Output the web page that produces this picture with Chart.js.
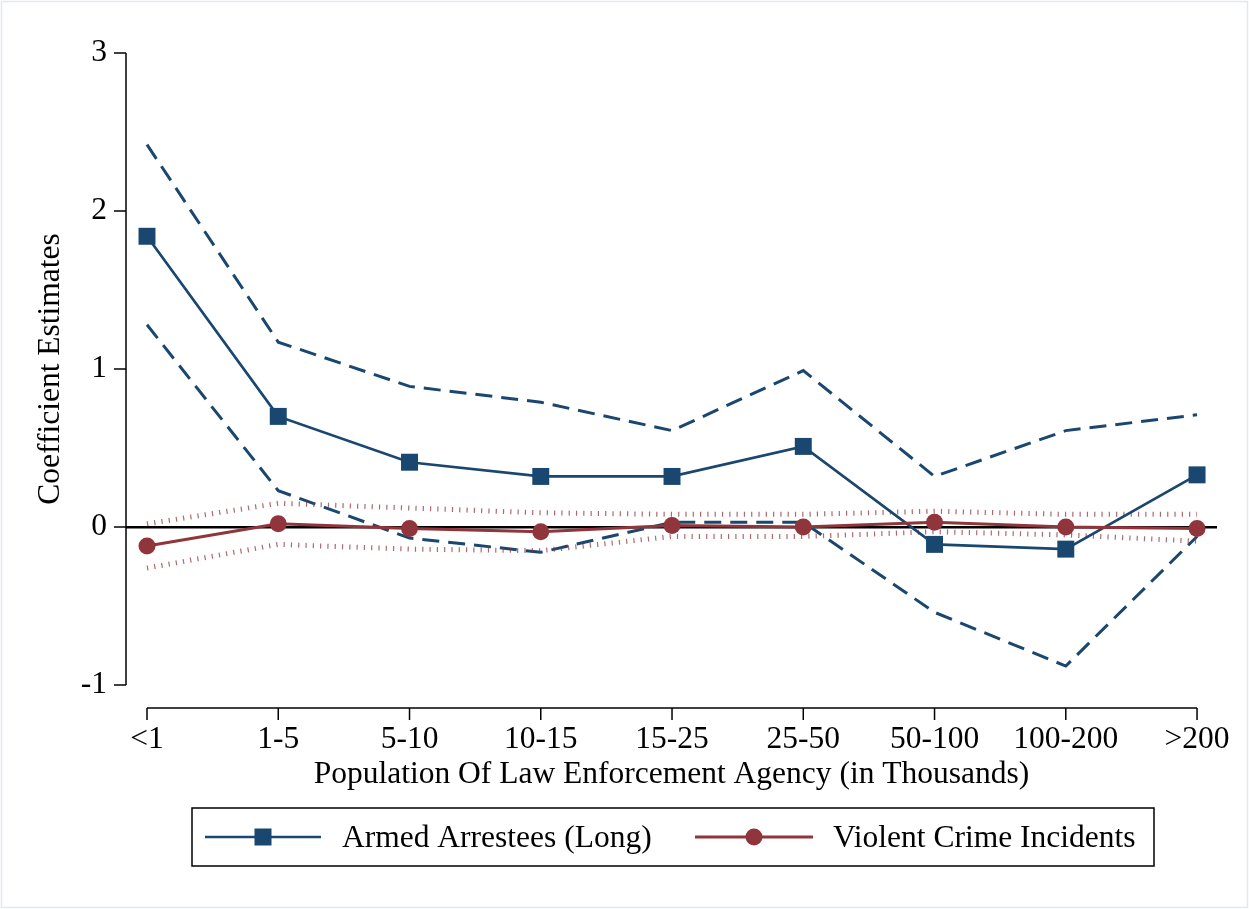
<!DOCTYPE html>
<html><head><meta charset="utf-8">
<script src="https://cdn.jsdelivr.net/npm/chart.js@4/dist/chart.umd.min.js"></script>
<style>html,body{margin:0;padding:0;background:#fff;}#wrap{width:1249px;height:909px;}</style>
</head><body><div id="wrap"><canvas id="c" width="1249" height="909"></canvas></div>
<script>
const categories = ['<1','1-5','5-10','10-15','15-25','25-50','50-100','100-200','>200'];
const armedEst     = [1.84, 0.70, 0.41, 0.32, 0.32, 0.51, -0.11, -0.14, 0.33];
const armedUpper   = [2.42, 1.17, 0.89, 0.79, 0.61, 0.99, 0.32, 0.61, 0.71];
const armedLower   = [1.28, 0.23, -0.07, -0.16, 0.03, 0.03, -0.54, -0.88, -0.06];
const violentEst   = [-0.12, 0.02, -0.01, -0.03, 0.01, 0.00, 0.03, 0.00, -0.01];
const violentUpper = [0.02, 0.15, 0.12, 0.09, 0.08, 0.08, 0.10, 0.08, 0.08];
const violentLower = [-0.26, -0.11, -0.14, -0.15, -0.06, -0.06, -0.03, -0.05, -0.09];
const yTicks = [-1, 0, 1, 2, 3];
const seriesNames = ['Armed Arrestees (Long)', 'Violent Crime Incidents'];
const xTitle = 'Population Of Law Enforcement Agency (in Thousands)';
const yTitle = 'Coefficient Estimates';

const BLUE = '#1a476f', RED = '#90353b';
const FONT = 'Liberation Serif';
const FS = 31.5;
const pts = arr => arr.map((v, i) => ({x: i, y: v}));

Chart.defaults.font.family = FONT;
Chart.defaults.color = '#000';

const decor = {
  id: 'decor',
  afterDraw(chart) {
    const ctx = chart.ctx, xs = chart.scales.x, ys = chart.scales.y, ca = chart.chartArea;
    ctx.save();
    ctx.strokeStyle = '#e1e9ee'; ctx.lineWidth = 1.5;
    ctx.strokeRect(1.5, 1.5, 1246, 906);
    ctx.strokeStyle = '#000'; ctx.lineWidth = 1.5;
    const yTop = ys.getPixelForValue(yTicks[yTicks.length-1]), yBot = ys.getPixelForValue(yTicks[0]);
    ctx.beginPath(); ctx.moveTo(ca.left, yTop); ctx.lineTo(ca.left, yBot); ctx.stroke();
    yTicks.forEach(v => { const p = ys.getPixelForValue(v); ctx.beginPath(); ctx.moveTo(ca.left - 12, p); ctx.lineTo(ca.left, p); ctx.stroke(); });
    const ax = ca.bottom + 23;
    const x0 = xs.getPixelForValue(0), x1 = xs.getPixelForValue(categories.length - 1);
    ctx.beginPath(); ctx.moveTo(x0, ax); ctx.lineTo(x1, ax); ctx.stroke();
    categories.forEach((c, i) => { const p = xs.getPixelForValue(i); ctx.beginPath(); ctx.moveTo(p, ax); ctx.lineTo(p, ax + 12); ctx.stroke(); });
    // legend
    ctx.lineWidth = 1.5; ctx.strokeStyle = '#000';
    ctx.strokeRect(192, 808, 962, 58);
    const ly = 837;
    ctx.font = FS + 'px "' + FONT + '"'; ctx.textBaseline = 'middle';
    ctx.strokeStyle = BLUE; ctx.lineWidth = 2.5;
    ctx.beginPath(); ctx.moveTo(205, ly); ctx.lineTo(321, ly); ctx.stroke();
    ctx.fillStyle = BLUE; ctx.fillRect(263 - 8.5, ly - 8.5, 17, 17);
    ctx.fillStyle = '#000'; ctx.fillText(seriesNames[0], 342, ly + 2);
    ctx.strokeStyle = RED; ctx.lineWidth = 3;
    ctx.beginPath(); ctx.moveTo(695, ly); ctx.lineTo(813, ly); ctx.stroke();
    ctx.fillStyle = RED; ctx.beginPath(); ctx.arc(754, ly, 8.5, 0, Math.PI * 2); ctx.fill();
    ctx.fillStyle = '#000'; ctx.fillText(seriesNames[1], 833, ly + 2);
    ctx.restore();
  }
};

new Chart(document.getElementById('c'), {
  type: 'line',
  data: {
    datasets: [
      { label: seriesNames[1], data: pts(violentEst), borderColor: RED, backgroundColor: RED, borderWidth: 3,
        pointStyle: 'circle', pointRadius: 8.5, pointBorderWidth: 0, pointBackgroundColor: RED, order: 1 },
      { label: seriesNames[0], data: pts(armedEst), borderColor: BLUE, backgroundColor: BLUE, borderWidth: 2.7,
        pointStyle: 'rect', pointRadius: 12, pointBorderWidth: 0, pointBackgroundColor: BLUE, order: 2 },
      { label: 'violent upper', data: pts(violentUpper), borderColor: 'rgba(144,53,59,0.75)', borderWidth: 5,
        borderDash: [1.2, 6.1], borderCapStyle: 'butt', pointRadius: 0, order: 3 },
      { label: 'violent lower', data: pts(violentLower), borderColor: 'rgba(144,53,59,0.75)', borderWidth: 5,
        borderDash: [1.2, 6.1], borderCapStyle: 'butt', pointRadius: 0, order: 3 },
      { label: 'armed upper', data: pts(armedUpper), borderColor: BLUE, borderWidth: 3,
        borderDash: [17, 9], pointRadius: 0, order: 4 },
      { label: 'armed lower', data: pts(armedLower), borderColor: BLUE, borderWidth: 3,
        borderDash: [17, 9], pointRadius: 0, order: 4 }
    ]
  },
  options: {
    responsive: false, animation: false, devicePixelRatio: 1,
    layout: { padding: { left: 0, right: 32, top: 53, bottom: 116 } },
    plugins: { legend: { display: false }, tooltip: { enabled: false } },
    elements: { line: { tension: 0, fill: false } },
    scales: {
      x: {
        type: 'linear', min: -0.16, max: 8.152,
        afterBuildTicks: s => { s.ticks = categories.map((c, i) => ({ value: i })); },
        afterFit: s => { s.height = 108; s.paddingLeft = 0; s.paddingRight = 0; },
        ticks: { callback: v => categories[v], font: { size: FS }, color: '#000', padding: 36, maxRotation: 0, autoSkip: false },
        grid: { display: false, drawTicks: false }, border: { display: false },
        title: { display: true, text: xTitle, font: { size: FS }, color: '#000', padding: { top: 0, bottom: -1 } }
      },
      y: {
        min: -1, max: 3,
        afterBuildTicks: s => { s.ticks = yTicks.map(v => ({ value: v })); },
        afterFit: s => { s.width = 126; s.paddingTop = 0; s.paddingBottom = 0; },
        ticks: { font: { size: FS }, color: '#000', padding: 19 },
        grid: { drawTicks: false, lineWidth: 2.5, color: c => (c.tick && c.tick.value === 0) ? '#000' : 'rgba(0,0,0,0)' },
        border: { display: false },
        title: { display: true, text: yTitle, font: { size: FS }, color: '#000', padding: { top: 32, bottom: 0 } }
      }
    }
  },
  plugins: [decor]
});
</script></body></html>
